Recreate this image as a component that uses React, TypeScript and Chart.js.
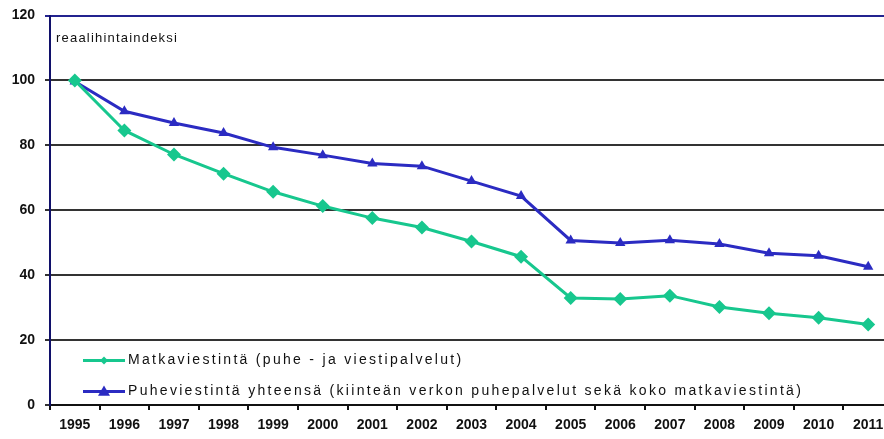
import React, { useEffect, useRef } from 'react';
import { Chart, registerables } from 'chart.js';

Chart.register(...registerables);

const years = ['1995', '1996', '1997', '1998', '1999', '2000', '2001', '2002', '2003', '2004', '2005', '2006', '2007', '2008', '2009', '2010', '2011'];
const mobileComm = [100, 84.6, 77.2, 71.3, 65.7, 61.3, 57.6, 54.7, 50.4, 45.7, 33, 32.7, 33.7, 30.2, 28.3, 26.9, 24.8];
const voiceTotal = [99.7, 90.5, 86.9, 83.8, 79.4, 77, 74.4, 73.6, 69, 64.4, 50.7, 49.9, 50.8, 49.6, 46.8, 46, 42.6];
const mobileLabel = 'Matkaviestintä (puhe - ja viestipalvelut)';
const voiceLabel = 'Puheviestintä yhteensä (kiinteän verkon puhepalvelut sekä koko matkaviestintä)';
const yAxisTitle = 'reaalihintaindeksi';
const yMin = 0;
const yMax = 120;
const yStep = 20;

const GREEN = '#17c78e';
const BLUE = '#2b2bc2';
const FONT = '"Liberation Sans", Arial, sans-serif';

function drawMarker(ctx: CanvasRenderingContext2D, style: string, x: number, y: number, r: number, color: string) {
  ctx.fillStyle = color;
  ctx.beginPath();
  if (style === 'rectRot') {
    ctx.moveTo(x, y - r);
    ctx.lineTo(x + r, y);
    ctx.lineTo(x, y + r);
    ctx.lineTo(x - r, y);
  } else {
    ctx.moveTo(x, y - r);
    ctx.lineTo(x + r, y + r * 0.7);
    ctx.lineTo(x - r, y + r * 0.7);
  }
  ctx.closePath();
  ctx.fill();
}

const overlayPlugin = {
  id: 'overlay',
  afterDraw(chart: any) {
    const ctx: CanvasRenderingContext2D = chart.ctx;
    const a = chart.chartArea;
    ctx.save();
    ctx.fillStyle = '#111';
    ctx.font = `13px ${FONT}`;
    (ctx as any).letterSpacing = '1.2px';
    ctx.textBaseline = 'middle';
    ctx.textAlign = 'left';
    ctx.fillText(yAxisTitle, a.left + 6, a.top + 23);

    chart.data.datasets.forEach((ds: any, i: number) => {
      const y = a.top + 345 + i * 31;
      const x0 = a.left + 33;
      const x1 = a.left + 75;
      ctx.strokeStyle = ds.borderColor;
      ctx.lineWidth = 3;
      ctx.beginPath();
      ctx.moveTo(x0, y);
      ctx.lineTo(x1, y);
      ctx.stroke();
      drawMarker(ctx, ds.pointStyle, (x0 + x1) / 2, y, i === 0 ? 4 : 6, ds.borderColor);
      ctx.fillStyle = '#111';
      ctx.font = `14px ${FONT}`;
      (ctx as any).letterSpacing = '2.3px';
      ctx.fillText(ds.label, x1 + 3, y);
    });
    ctx.restore();
  },
};

export default function App() {
  const ref = useRef<HTMLCanvasElement | null>(null);

  useEffect(() => {
    if (!ref.current) return;
    const chart = new Chart(ref.current, {
      type: 'line',
      data: {
        labels: years,
        datasets: [
          {
            label: mobileLabel,
            data: mobileComm,
            borderColor: GREEN,
            backgroundColor: GREEN,
            borderWidth: 3,
            pointStyle: 'rectRot',
            pointRadius: 7,
            pointBorderWidth: 0,
            tension: 0,
          },
          {
            label: voiceLabel,
            data: voiceTotal,
            borderColor: BLUE,
            backgroundColor: BLUE,
            borderWidth: 3,
            pointStyle: 'triangle',
            pointRadius: 6,
            pointBorderWidth: 0,
            tension: 0,
          },
        ],
      },
      options: {
        responsive: false,
        animation: false,
        devicePixelRatio: 1,
        layout: { padding: { top: 14, right: 7, left: 0, bottom: 0 } },
        plugins: {
          legend: { display: false },
          tooltip: { enabled: false },
        },
        scales: {
          x: {
            type: 'category',
            offset: true,
            grid: {
              offset: true,
              drawOnChartArea: false,
              drawTicks: true,
              tickLength: 5,
              color: '#111',
              lineWidth: 2,
            },
            border: { display: true, color: '#111', width: 2 },
            ticks: {
              color: '#111',
              font: { family: FONT, size: 14, weight: 'bold' },
              padding: 7,
              maxRotation: 0,
              autoSkip: false,
            },
            afterFit: (scale: any) => {
              scale.height = 34;
            },
          },
          y: {
            min: yMin,
            max: yMax,
            ticks: {
              stepSize: yStep,
              color: '#111',
              font: { family: FONT, size: 14, weight: 'bold', lineHeight: 0.8 },
              padding: 10,
            },
            grid: {
              color: (c: any) => (c.tick && c.tick.value === yMax ? '#23238f' : '#333'),
              lineWidth: 2,
              tickLength: 5,
            },
            border: { display: true, color: '#10106a', width: 2 },
            afterFit: (scale: any) => {
              scale.width = 50;
            },
          },
        },
      },
      plugins: [overlayPlugin],
    });
    return () => chart.destroy();
  }, []);

  return (
    <div style={{ position: 'fixed', left: 0, top: 0, width: 900, height: 439, background: '#fff' }}>
      <canvas ref={ref} width={900} height={439} />
    </div>
  );
}
